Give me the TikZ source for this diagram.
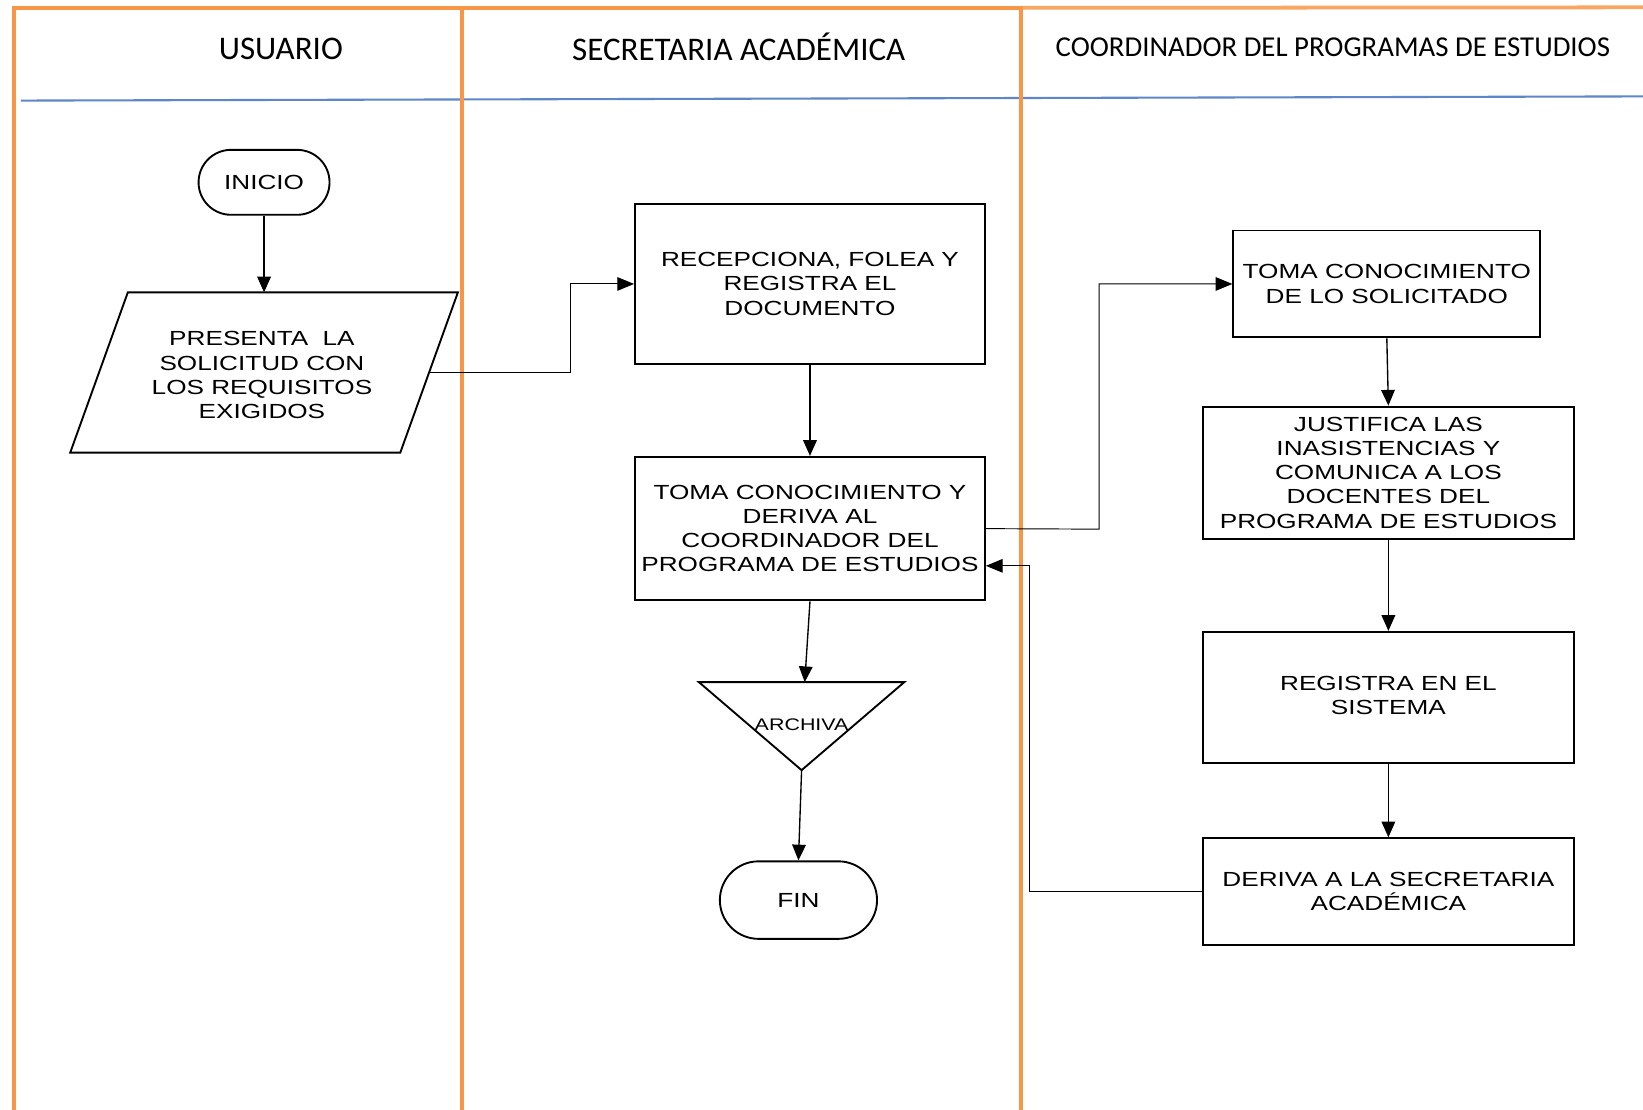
\documentclass[tikz,border=0pt]{standalone}
\usepackage{fontspec}
\usetikzlibrary{arrows.meta,calc}
\newfontfamily\bxfont[FakeStretch=1.28]{Liberation Sans}
\newfontfamily\hdfont{Carlito}
\definecolor{lane}{RGB}{247,150,70}
\definecolor{hblue}{RGB}{95,135,200}
\begin{document}
\begin{tikzpicture}[x=1pt,y=-1pt,
  procbox/.style={draw, line width=1.8pt, align=center, inner sep=0pt, font={\bxfont\fontsize{19.5}{23.1}\selectfont}},
  txt/.style={align=center, inner sep=0pt, font={\bxfont\fontsize{19.5}{23.1}\selectfont}},
  hdr/.style={inner sep=0pt, font={\hdfont\fontsize{31.5}{36}\selectfont}},
  arr/.style={-{Triangle[length=15pt,width=13pt]}, line width=1.3pt},
  elb/.style={-{Triangle[length=16pt,width=13pt]}, line width=0.9pt},
  lanel/.style={draw=lane, line width=4pt}]
\useasboundingbox (0,0) rectangle (1568,1059);
\fill[white] (0,0) rectangle (1568,1059);
% header separator
\draw[hblue, line width=2pt] (20,96) -- (1568,92);
% lanes
\draw[lanel] (13,8) -- (975,8);
\draw[draw=lane!85, line width=3.6pt] (975,7.5) -- (1568,7);
\draw[lanel] (13,6) -- (13,1059);
\draw[lanel] (441,6) -- (441,1059);
\draw[lanel] (974,6) -- (974,1059);
% headers
\node[hdr] (h1) at (268,47) {USUARIO};
\node[hdr] (h2) at (705,45) {SECRETARIA ACADÉMICA};
\node[hdr, font={\hdfont\fontsize{27.5}{32}\selectfont}] (h3) at (1272,45) {COORDINADOR DEL PROGRAMAS DE ESTUDIOS};
% usuario lane
\node[procbox, rounded corners=31pt, minimum width=125pt, minimum height=62pt] (ini) at (252,174) {INICIO};
\draw[line width=1.8pt, line join=miter] (122,279) -- (437,279) -- (382,432) -- (67,432) -- cycle;
\node[txt] (pres) at (250,358) {PRESENTA\hspace{0.35em} LA\\SOLICITUD CON\\LOS REQUISITOS\\EXIGIDOS};
\coordinate (prestop) at (252,279);
\coordinate (presr) at (410,355);
% secretaria lane
\node[procbox, minimum width=334pt, minimum height=152pt] (recep) at (773,271) {RECEPCIONA, FOLEA Y\\REGISTRA EL\\DOCUMENTO};
\node[procbox, minimum width=334pt, minimum height=137pt] (toma1) at (773,504.5) {TOMA CONOCIMIENTO Y\\DERIVA AL\\COORDINADOR DEL\\PROGRAMA DE ESTUDIOS};
\draw[line width=1.8pt, line join=miter] (667,651) -- (863,651) -- (765,735) -- cycle;
\node[txt, font={\bxfont\fontsize{16}{19}\selectfont}] (arch) at (765,692) {ARCHIVA};
\coordinate (archtop) at (768,651);
\coordinate (archbot) at (765,735);
\node[procbox, rounded corners=37pt, minimum width=150pt, minimum height=74pt] (fin) at (762,859) {FIN};
% coordinador lane
\node[procbox, minimum width=293pt, minimum height=102pt] (sol) at (1323.5,271) {TOMA CONOCIMIENTO\\DE LO SOLICITADO};
\node[procbox, minimum width=354pt, minimum height=126pt] (just) at (1325,451) {JUSTIFICA LAS\\INASISTENCIAS Y\\COMUNICA A LOS\\DOCENTES DEL\\PROGRAMA DE ESTUDIOS};
\node[procbox, minimum width=354pt, minimum height=125pt] (reg) at (1325,665.5) {\raisebox{4pt}{\begin{tabular}{@{}c@{}}REGISTRA EN EL\\[-0.1pt]SISTEMA\end{tabular}}};
\node[procbox, minimum width=354pt, minimum height=102pt] (der) at (1325,851) {DERIVA A LA SECRETARIA\\ACADÉMICA};
% connectors
\draw[arr] (ini) -- (prestop);
\coordinate (k1) at (544,355);
\draw[elb] (presr) -- (k1) |- (recep.west);
\draw[arr] (recep) -- (toma1);
\draw[arr] (toma1.south) -- (archtop);
\draw[arr] (archbot) -- (fin.north);
\coordinate (k2) at (1049,505);
\draw[elb] (toma1.east) -- (k2) |- (sol.west);
\draw[arr] (sol.south) -- (just.north);
\draw[arr] (just) -- (reg);
\draw[arr] (reg) -- (der);
\coordinate (k3) at (982,540);
\draw[elb] (der.west) -| (k3) -- (k3 -| toma1.east);
\end{tikzpicture}
\end{document}
